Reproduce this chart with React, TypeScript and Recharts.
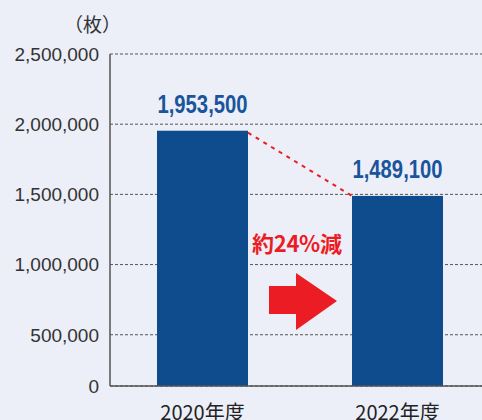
import React from "react";
import { BarChart, Bar, XAxis, YAxis, CartesianGrid, LabelList } from "recharts";

const categories = ["2020年度", "2022年度"];
const sheetCounts = [1953500, 1489100];
const valueLabels = ["1,953,500", "1,489,100"];
// the original chart draws its "0" line as a broken axis
const axisBreakBase = 135000;
const yTickValues = [axisBreakBase, 500000, 1000000, 1500000, 2000000, 2500000];
const yTickLabels = ["0", "500,000", "1,000,000", "1,500,000", "2,000,000", "2,500,000"];
const unitLabel = "（枚）";
const changeLabel = "約24%減";

const data = categories.map((c, i) => ({ name: c, value: sheetCounts[i], label: valueLabels[i] }));

const BAR = "#0f4c8e";
const RED = "#ec1c24";
const BG = "#eceef8";

const prevBar: { current: null | { x: number; y: number; width: number } } = { current: null };

const BarShape = (props: any) => {
  const { x, y, width, height, index } = props;
  let connector = null;
  if (index === 0) {
    prevBar.current = { x, y, width };
  } else if (prevBar.current) {
    const p = prevBar.current;
    connector = (
      <line x1={p.x + p.width} y1={p.y + 2} x2={x} y2={y} stroke={RED} strokeWidth={2} strokeDasharray="4 5" />
    );
  }
  return (
    <g>
      <rect x={x} y={y} width={width} height={height} fill={BAR} />
      {connector}
    </g>
  );
};

const ValueLabel = (props: any) => {
  const { x, y, width, value } = props;
  return (
    <text
      x={x + width / 2}
      y={y - 18}
      textAnchor="middle"
      fill="#1a559c"
      fontSize={25}
      fontWeight="bold"
      fontFamily="'Liberation Sans', Arial, sans-serif"
      textLength={90}
      lengthAdjust="spacingAndGlyphs"
    >
      {value}
    </text>
  );
};

export default function App() {
  return (
    <div style={{ position: "absolute", left: 0, top: 0, width: 482, height: 420, background: BG, overflow: "hidden", fontFamily: "'Liberation Sans', Arial, sans-serif" }}>
      <BarChart width={482} height={420} data={data} margin={{ top: 54, right: 0, bottom: 0, left: 0 }}>
        <CartesianGrid vertical={false} stroke="#555" strokeDasharray="3 2" strokeWidth={1} />
        <XAxis
          dataKey="name"
          height={34}
          padding={{ left: -5, right: -13 }}
          tickLine={false}
          axisLine={{ stroke: "#555", strokeWidth: 1.5 }}
          tickMargin={14}
          tick={{ fill: "#222", fontSize: 20, fontFamily: "'Noto Sans CJK JP', 'Liberation Sans', sans-serif" }}
        />
        <YAxis
          width={110}
          domain={[axisBreakBase, 2500000]}
          ticks={yTickValues}
          interval={0}
          allowDataOverflow
          tickLine={false}
          tickMargin={5}
          axisLine={{ stroke: "#555", strokeWidth: 1.5 }}
          tickFormatter={(v: number) => yTickLabels[yTickValues.indexOf(v)] ?? ""}
          tick={{ fill: "#333", fontSize: 19, fontFamily: "'Liberation Sans', Arial, sans-serif" }}
        />
        <Bar dataKey="value" barSize={91} isAnimationActive={false} shape={BarShape}>
          <LabelList dataKey="label" content={ValueLabel} />
        </Bar>
      </BarChart>
      <div style={{ position: "absolute", left: 64, top: 11, fontSize: 19, color: "#333", fontFamily: "'Noto Sans CJK JP', sans-serif", lineHeight: "26px" }}>
        {unitLabel}
      </div>
      <div style={{ position: "absolute", left: 252, top: 227, fontSize: 22, fontWeight: "bold", color: RED, fontFamily: "'Noto Sans CJK JP', sans-serif", lineHeight: "30px", letterSpacing: -0.3 }}>
        {changeLabel}
      </div>
      <svg style={{ position: "absolute", left: 0, top: 0 }} width={482} height={420}>
        <polygon points="269,286 296,286 296,273 337,301 296,330 296,314 269,314" fill={RED} />
      </svg>
    </div>
  );
}
